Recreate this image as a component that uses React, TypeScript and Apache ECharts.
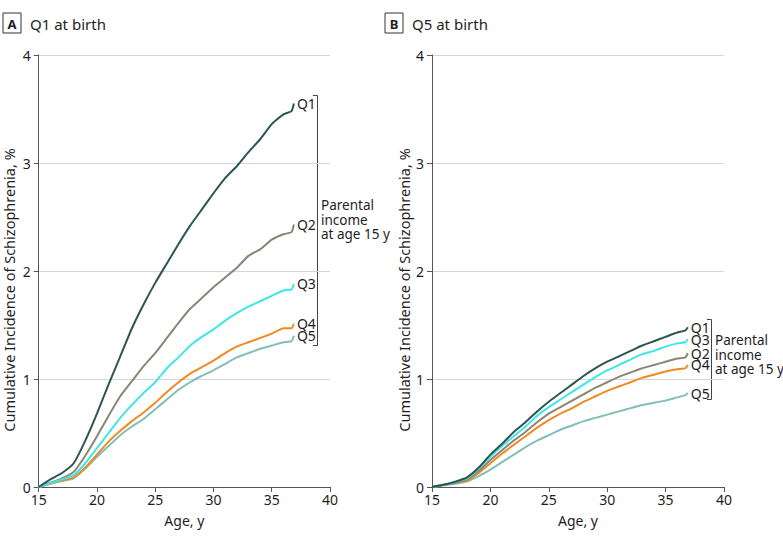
import React, { useEffect, useRef } from "react";
import * as echarts from "echarts";

const ages = [15, 16, 17, 18, 19, 20, 21, 22, 23, 24, 25, 26, 27, 28, 29, 30, 31, 32, 33, 34, 35, 36, 36.7, 36.9];
const seriesNames = ["Q1", "Q2", "Q3", "Q4", "Q5"];
const colors: Record<string, string> = {
  Q1: "#2c5552",
  Q2: "#8b8574",
  Q3: "#3ee6ec",
  Q4: "#ef8a22",
  Q5: "#84bdb9",
};
const panelTitles = ["Q1 at birth", "Q5 at birth"];
const panelLetters = ["A", "B"];
const yAxisTitle = "Cumulative Incidence of Schizophrenia, %";
const xAxisTitle = "Age, y";
const bracketText = "Parental\nincome\nat age 15 y";

// Panel A: Q1 at birth
const aQ1 = [0, 0.07, 0.13, 0.22, 0.43, 0.68, 0.95, 1.21, 1.47, 1.69, 1.89, 2.07, 2.25, 2.42, 2.57, 2.72, 2.86, 2.97, 3.1, 3.22, 3.36, 3.45, 3.48, 3.55];
const aQ2 = [0, 0.04, 0.08, 0.14, 0.29, 0.47, 0.66, 0.84, 0.98, 1.12, 1.24, 1.38, 1.52, 1.65, 1.75, 1.85, 1.94, 2.03, 2.14, 2.2, 2.29, 2.34, 2.36, 2.43];
const aQ3 = [0, 0.035, 0.07, 0.11, 0.22, 0.36, 0.5, 0.64, 0.76, 0.87, 0.97, 1.1, 1.2, 1.31, 1.39, 1.46, 1.54, 1.61, 1.67, 1.72, 1.77, 1.82, 1.83, 1.88];
const aQ4 = [0, 0.03, 0.06, 0.09, 0.18, 0.3, 0.42, 0.52, 0.61, 0.69, 0.78, 0.88, 0.97, 1.05, 1.11, 1.17, 1.24, 1.3, 1.34, 1.38, 1.42, 1.47, 1.47, 1.51];
const aQ5 = [0, 0.03, 0.055, 0.08, 0.17, 0.28, 0.38, 0.48, 0.56, 0.63, 0.72, 0.81, 0.9, 0.97, 1.03, 1.08, 1.14, 1.2, 1.24, 1.28, 1.31, 1.34, 1.35, 1.4];

// Panel B: Q5 at birth
const bQ1 = [0, 0.02, 0.05, 0.09, 0.18, 0.3, 0.4, 0.51, 0.6, 0.7, 0.79, 0.87, 0.95, 1.03, 1.1, 1.16, 1.21, 1.26, 1.31, 1.35, 1.39, 1.43, 1.45, 1.48];
const bQ2 = [0, 0.02, 0.04, 0.07, 0.15, 0.25, 0.34, 0.43, 0.51, 0.6, 0.68, 0.74, 0.8, 0.86, 0.92, 0.97, 1.02, 1.06, 1.1, 1.13, 1.16, 1.19, 1.2, 1.24];
const bQ3 = [0, 0.02, 0.05, 0.08, 0.17, 0.28, 0.38, 0.47, 0.56, 0.66, 0.74, 0.81, 0.88, 0.95, 1.02, 1.08, 1.13, 1.18, 1.23, 1.26, 1.3, 1.33, 1.34, 1.37];
const bQ4 = [0, 0.02, 0.04, 0.06, 0.13, 0.22, 0.31, 0.39, 0.47, 0.55, 0.62, 0.68, 0.73, 0.79, 0.84, 0.89, 0.93, 0.97, 1.01, 1.04, 1.07, 1.09, 1.1, 1.13];
const bQ5 = [0, 0.015, 0.03, 0.05, 0.1, 0.16, 0.23, 0.3, 0.37, 0.43, 0.48, 0.53, 0.57, 0.61, 0.64, 0.67, 0.7, 0.73, 0.76, 0.78, 0.8, 0.83, 0.85, 0.87];

const panelA = [aQ1, aQ2, aQ3, aQ4, aQ5];
const panelB = [bQ1, bQ2, bQ3, bQ4, bQ5];

const FONT = "Noto Sans";
const TXT = "#1e1e1e";

function makeAxes(gridIndex: number) {
  const x = {
    type: "value",
    gridIndex,
    min: 15,
    max: 40,
    interval: 5,
    name: xAxisTitle,
    nameLocation: "middle",
    nameGap: 26,
    nameTextStyle: { fontFamily: FONT, fontSize: 14, color: TXT },
    axisLine: { show: true, lineStyle: { color: "#555", width: 1 } },
    axisTick: { show: true, length: 5, lineStyle: { color: "#555" } },
    axisLabel: { fontFamily: FONT, fontSize: 14, color: TXT, margin: 5 },
    splitLine: { show: false },
  };
  const y = {
    type: "value",
    gridIndex,
    min: 0,
    max: 4,
    interval: 1,
    axisLine: { show: true, lineStyle: { color: "#555", width: 1 } },
    axisTick: { show: true, length: 5, lineStyle: { color: "#555" } },
    axisLabel: { fontFamily: FONT, fontSize: 14, color: TXT, margin: 8 },
    splitLine: { show: true, lineStyle: { color: "#d6d6d6", width: 1 } },
  };
  return { x, y };
}

export default function App() {
  const ref = useRef<HTMLDivElement>(null);
  useEffect(() => {
    if (!ref.current) return;
    const chart = echarts.init(ref.current, null, { renderer: "svg" });
    const axA = makeAxes(0);
    const axB = makeAxes(1);
    const series: any[] = [];
    [panelA, panelB].forEach((panel, pi) => {
      const order = [4, 3, 1, 2, 0];
      order.forEach((si) => {
        const name = seriesNames[si];
        series.push({
          type: "line",
          name,
          xAxisIndex: pi,
          yAxisIndex: pi,
          data: ages.map((a, i) => [a, panel[si][i]]),
          showSymbol: false,
          smooth: 0.15,
          lineStyle: { color: colors[name], width: 2 },
          itemStyle: { color: colors[name] },
          endLabel: {
            show: true,
            formatter: name,
            distance: 3,
            fontFamily: FONT,
            fontSize: 14,
            lineHeight: 11,
            color: TXT,
          },
        });
      });
    });
    const bracketStyle = { stroke: "#444", lineWidth: 1, fill: "none" };
    const textStyleBase = { fontFamily: FONT, fontSize: 13.5, fill: TXT };
    const panelX = [0, 382];
    const graphics: any[] = [];
    panelX.forEach((px, i) => {
      graphics.push(
        { type: "rect", shape: { x: px + 3, y: 13, width: 18, height: 20 }, style: { stroke: "#333", lineWidth: 1, fill: "#fff" } },
        { type: "text", x: px + 12, y: 23.5, style: { ...textStyleBase, fontSize: 13, text: panelLetters[i], fontWeight: "bold", align: "center", verticalAlign: "middle" } },
        { type: "text", x: px + 30, y: 24, style: { ...textStyleBase, fontSize: 15, text: panelTitles[i], verticalAlign: "middle" } }
      );
    });
    graphics.push(
      { type: "text", x: 9, y: 290, rotation: Math.PI / 2, style: { ...textStyleBase, fontSize: 14.5, text: yAxisTitle, align: "center", verticalAlign: "middle" } },
      { type: "text", x: 404, y: 290, rotation: Math.PI / 2, style: { ...textStyleBase, fontSize: 14.5, text: yAxisTitle, align: "center", verticalAlign: "middle" } },
      { type: "polyline", shape: { points: [[313, 95.5], [317.5, 95.5], [317.5, 345.5], [313, 345.5]] }, style: bracketStyle },
      { type: "text", x: 321, y: 198, style: { ...textStyleBase, text: bracketText, lineHeight: 14.5 } },
      { type: "polyline", shape: { points: [[707, 319.5], [711.5, 319.5], [711.5, 399.5], [707, 399.5]] }, style: bracketStyle },
      { type: "text", x: 715, y: 333, style: { ...textStyleBase, text: bracketText, lineHeight: 14.5 } }
    );
    chart.setOption({
      animation: false,
      grid: [
        { left: 38.7, top: 55, width: 291.3, height: 432 },
        { left: 432, top: 55, width: 292, height: 432 },
      ],
      xAxis: [axA.x, axB.x],
      yAxis: [axA.y, axB.y],
      series,
      graphic: graphics,
    });
    return () => chart.dispose();
  }, []);
  return (
    <div
      ref={ref}
      style={{ position: "fixed", left: 0, top: 0, width: 783, height: 540, background: "#fff" }}
    />
  );
}
